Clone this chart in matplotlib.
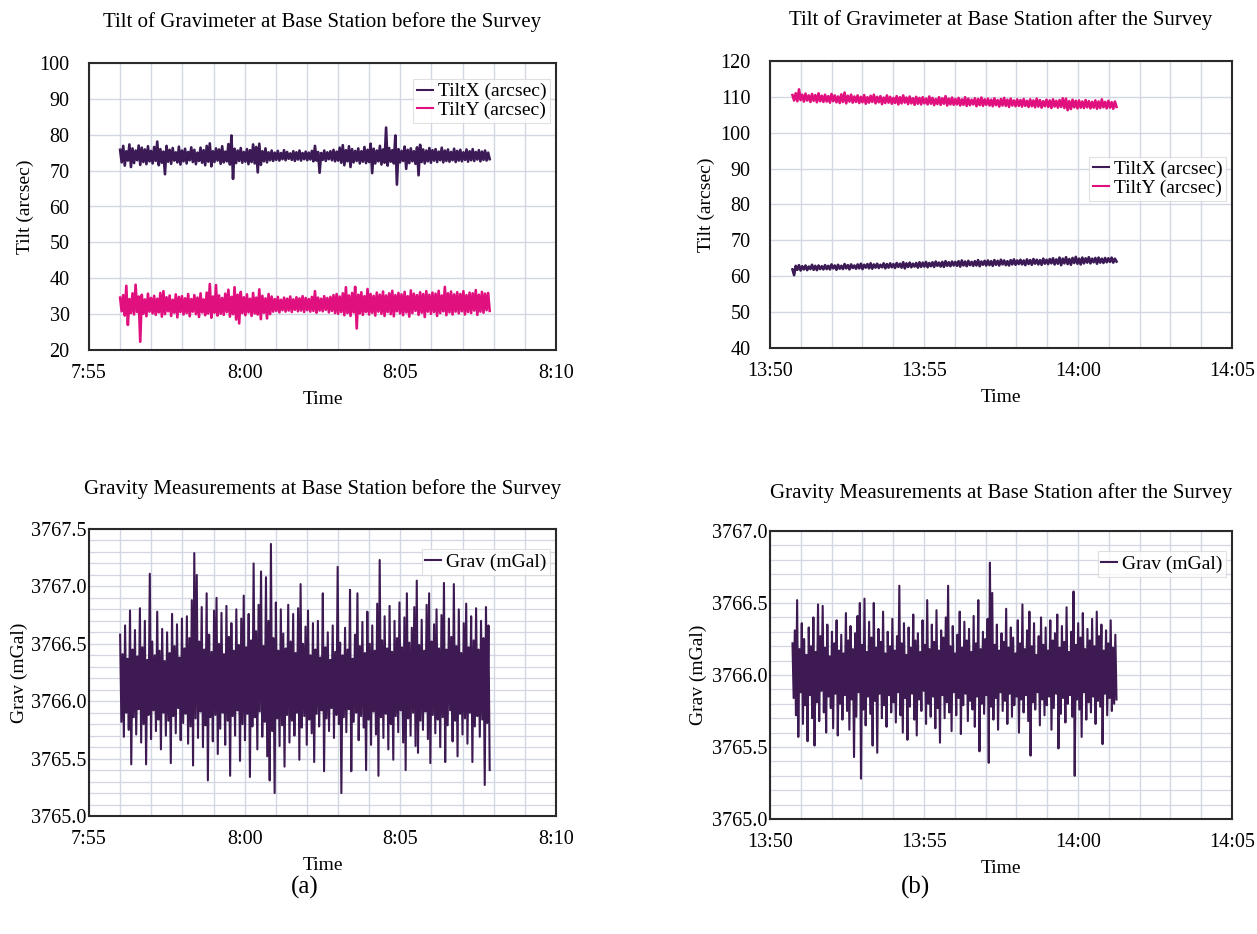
import numpy as np
import matplotlib
matplotlib.use("Agg")
import matplotlib.pyplot as plt
from matplotlib.ticker import MultipleLocator, FuncFormatter

# record spans, minutes after midnight
t_before = (7 * 60 + 56.0, 8 * 60 + 7.87)
t_after = (13 * 60 + 50.73, 14 * 60 + 1.25)

# values: alternating upper / lower excursions
tiltx_a_hi = [
    75.8, 76.9, 75.4, 77.3, 76.2, 75.6, 77.0, 76.4, 75.9, 76.8,
    75.5, 76.6, 78.1, 76.0, 75.3, 76.9, 75.8, 76.3, 75.1, 76.7,
    75.6, 76.1, 75.2, 76.5, 75.8, 75.0, 76.4, 75.7, 76.9, 77.6,
    75.4, 76.2, 75.9, 76.8, 75.3, 77.4, 79.8, 76.1, 75.6, 76.3,
    75.2, 76.0, 75.7, 77.3, 76.6, 77.5, 75.4, 76.2, 75.1, 75.6,
    75.0, 75.5, 74.9, 75.7, 75.2, 74.8, 75.4, 75.1, 75.6, 74.9,
    75.3, 75.0, 75.5, 76.9, 75.2, 74.9, 75.6, 75.1, 75.4, 75.8,
    75.3, 76.4, 77.1, 75.7, 76.8, 76.0, 75.5, 76.2, 75.4, 76.6,
    75.8, 77.5, 76.1, 75.6, 76.9, 75.9, 82.0, 76.3, 75.7, 79.8,
    76.0, 75.5, 76.7, 75.8, 76.2, 75.4, 76.5, 77.2, 75.9, 75.6,
    76.3, 75.7, 76.0, 75.3, 76.4, 75.6, 75.9, 75.2, 76.1, 75.5,
    75.8, 75.1, 75.9, 75.4, 76.0, 75.2, 75.7, 75.3, 75.6, 75.0,
]
tiltx_a_lo = [
    72.3, 71.4, 72.8, 71.0, 72.1, 72.9, 71.6, 72.4, 71.8, 72.6,
    72.0, 72.7, 71.5, 72.2, 69.0, 72.5, 71.9, 72.8, 72.3, 71.7,
    72.6, 72.0, 72.9, 72.4, 71.8, 72.7, 72.2, 71.5, 72.5, 71.2,
    72.4, 72.8, 71.9, 72.3, 72.6, 71.7, 67.7, 72.1, 72.7, 72.2,
    72.5, 71.8, 72.4, 72.0, 69.5, 71.6, 72.6, 72.3, 72.9, 72.7,
    73.0, 72.8, 73.2, 72.9, 73.3, 73.0, 72.7, 73.1, 72.8, 73.2,
    72.9, 73.1, 72.6, 72.8, 69.4, 73.0, 72.7, 73.2, 72.9, 72.6,
    72.8, 72.2, 71.5, 72.6, 71.0, 72.3, 72.7, 72.0, 72.5, 72.1,
    72.4, 69.3, 72.0, 72.6, 71.7, 72.2, 71.4, 72.5, 72.0, 66.1,
    72.3, 72.7, 70.5, 72.1, 72.6, 71.9, 68.7, 72.4, 72.0, 72.6,
    72.2, 72.8, 72.4, 72.9, 72.3, 72.7, 72.5, 72.9, 72.4, 72.8,
    72.6, 73.0, 72.5, 72.9, 72.7, 73.1, 72.6, 73.0, 72.8, 73.2,
]
tilty_a_hi = [
    34.6, 35.3, 37.9, 34.2, 35.8, 38.2, 34.9, 35.4, 34.1, 35.7,
    34.5, 35.1, 34.3, 35.9, 36.4, 34.7, 35.2, 34.0, 35.5, 34.8,
    35.0, 34.4, 35.6, 34.2, 35.3, 34.6, 35.8, 34.1, 36.0, 38.4,
    34.9, 38.1, 35.2, 34.5, 35.7, 36.8, 34.8, 37.5, 35.4, 36.2,
    34.7, 35.5, 34.3, 35.9, 34.6, 36.9, 35.1, 34.4, 35.6, 34.9,
    34.2, 34.8, 34.0, 34.6, 34.3, 34.9, 34.1, 34.7, 34.4, 35.0,
    34.5, 34.2, 34.8, 36.4, 34.6, 34.3, 35.0, 34.5, 34.8, 35.3,
    35.6, 34.9, 35.8, 37.5, 35.2, 35.9, 37.6, 35.4, 36.1, 35.0,
    37.0, 35.6, 35.1, 36.0, 35.4, 36.3, 35.2, 35.8, 36.5, 35.3,
    35.9, 35.5, 36.2, 35.0, 36.6, 35.7, 35.3, 36.1, 35.6, 36.4,
    35.4, 36.0, 35.7, 36.5, 35.2, 37.6, 35.8, 36.3, 35.5, 36.1,
    35.6, 36.4, 35.3, 36.0, 35.8, 36.7, 35.4, 36.2, 35.7, 35.9,
]
tilty_a_lo = [
    30.8, 29.6, 27.0, 30.3, 29.9, 30.6, 22.3, 30.1, 29.4, 30.7,
    30.2, 29.8, 30.5, 29.3, 30.0, 30.8, 29.5, 30.4, 29.1, 30.6,
    29.9, 30.3, 29.4, 30.7, 30.0, 29.2, 30.5, 29.7, 30.2, 29.0,
    30.4, 29.6, 30.1, 29.8, 30.6, 29.3, 30.0, 28.5, 27.4, 30.3,
    29.7, 30.5, 29.5, 30.2, 29.9, 28.6, 30.4, 28.8, 30.0, 30.7,
    30.9, 30.5, 31.1, 30.7, 31.0, 30.6, 31.2, 30.8, 31.0, 30.6,
    31.1, 30.7, 30.9, 30.4, 31.0, 30.8, 31.2, 30.5, 30.9, 30.3,
    30.1, 30.6, 29.7, 30.3, 29.5, 30.5, 26.0, 30.2, 29.8, 30.6,
    29.9, 30.4, 29.6, 30.7, 30.1, 29.5, 30.6, 30.0, 29.4, 30.8,
    30.2, 29.7, 30.5, 29.3, 30.3, 30.9, 29.8, 30.4, 29.2, 30.7,
    30.1, 30.6, 29.5, 30.3, 30.8, 29.7, 30.5, 29.9, 30.7, 30.2,
    30.8, 29.9, 30.6, 30.3, 31.0, 29.8, 30.7, 30.4, 31.1, 30.9,
]

tiltx_b_hi = [
    61.9, 62.9, 63.1, 62.8, 63.0, 62.7, 63.2, 62.9, 63.0, 62.8,
    63.1, 62.9, 63.3, 63.0, 63.2, 62.9, 63.4, 63.1, 63.3, 63.0,
    63.3, 63.5, 63.2, 63.4, 63.6, 63.3, 63.5, 63.2, 63.6, 63.4,
    63.6, 63.4, 63.7, 63.5, 63.9, 63.6, 63.8, 63.5, 63.7, 63.9,
    63.8, 64.0, 63.7, 63.9, 64.1, 63.8, 64.0, 64.2, 63.9, 64.1,
    64.0, 64.2, 64.4, 64.1, 64.3, 64.0, 64.2, 64.5, 64.1, 64.3,
    64.4, 64.2, 64.5, 64.3, 64.6, 64.4, 64.2, 64.5, 64.7, 64.4,
    64.6, 64.4, 64.7, 64.5, 64.8, 64.6, 64.5, 64.9, 64.6, 64.8,
    65.0, 64.7, 65.2, 64.9, 65.3, 64.8, 65.1, 65.4, 64.9, 65.2,
    65.0, 65.3, 64.9, 65.1, 65.2, 64.9, 65.1, 65.0, 65.2, 64.9,
]
tiltx_b_lo = [
    60.3, 61.8, 61.6, 61.9, 61.7, 62.0, 61.8, 61.7, 62.0, 61.9,
    62.0, 61.9, 62.2, 61.8, 62.1, 62.0, 62.2, 61.9, 62.3, 62.1,
    62.2, 62.0, 62.4, 62.2, 62.1, 62.4, 62.3, 62.5, 62.2, 62.4,
    62.5, 62.3, 62.6, 62.4, 62.2, 62.6, 62.5, 62.7, 62.4, 62.6,
    62.7, 62.5, 62.8, 62.6, 62.9, 62.7, 62.6, 62.9, 62.8, 63.0,
    62.9, 62.7, 63.0, 62.8, 63.1, 62.9, 63.0, 62.8, 63.2, 63.0,
    63.1, 62.9, 63.2, 63.0, 63.3, 63.1, 63.0, 63.3, 63.2, 63.4,
    63.3, 63.1, 63.4, 63.2, 63.5, 63.3, 63.2, 63.5, 63.4, 63.6,
    63.3, 63.5, 63.1, 63.6, 63.4, 63.2, 63.7, 63.5, 63.3, 63.6,
    63.8, 63.6, 63.9, 63.5, 63.8, 63.7, 63.9, 64.0, 63.8, 64.1,
]
tilty_b_hi = [
    110.5, 111.0, 112.1, 110.6, 110.9, 110.4, 110.8, 110.5, 111.0, 110.3,
    110.6, 110.2, 110.8, 110.4, 110.1, 110.7, 111.2, 110.3, 110.6, 110.1,
    110.4, 110.0, 110.5, 109.9, 110.3, 110.6, 110.0, 110.2, 109.8, 110.4,
    110.0, 109.7, 110.2, 109.9, 110.4, 109.8, 110.1, 109.6, 110.0, 109.7,
    109.9, 109.5, 110.1, 109.7, 109.4, 109.9, 109.6, 110.2, 109.5, 109.8,
    109.4, 109.7, 109.3, 109.9, 109.5, 109.2, 109.6, 109.4, 109.8, 109.3,
    109.5, 109.2, 109.6, 109.1, 109.4, 109.7, 109.2, 109.5, 109.0, 109.3,
    109.1, 109.4, 108.9, 109.3, 109.0, 109.5, 109.1, 108.8, 109.2, 109.0,
    109.3, 108.9, 109.1, 109.6, 109.5, 108.8, 109.2, 108.9, 109.0, 108.7,
    109.1, 108.8, 108.6, 109.0, 108.7, 109.3, 108.6, 108.9, 108.5, 108.7,
]
tilty_b_lo = [
    109.0, 108.8, 109.1, 108.7, 109.0, 108.6, 108.9, 108.5, 108.8, 108.6,
    108.7, 108.4, 108.8, 108.5, 108.3, 108.6, 108.2, 108.7, 108.4, 108.6,
    108.3, 108.5, 108.1, 108.4, 108.6, 108.2, 108.5, 108.0, 108.3, 108.4,
    108.1, 108.3, 107.9, 108.2, 108.4, 108.0, 108.2, 107.8, 108.1, 107.9,
    108.2, 107.9, 108.1, 107.7, 108.0, 107.8, 108.1, 107.6, 107.9, 107.8,
    107.9, 107.6, 107.8, 107.5, 107.7, 107.9, 107.4, 107.7, 107.5, 107.8,
    107.6, 107.4, 107.7, 107.3, 107.6, 107.5, 107.2, 107.6, 107.4, 107.5,
    107.3, 107.5, 107.2, 107.4, 107.1, 107.3, 107.0, 107.4, 107.2, 106.9,
    107.3, 107.0, 107.2, 106.9, 106.3, 106.6, 107.1, 106.8, 107.0, 106.9,
    107.1, 106.8, 107.0, 106.7, 106.9, 107.1, 106.8, 107.0, 106.7, 107.2,
]

grav_a_hi = [
    3766.58, 3766.41, 3766.66, 3766.37, 3766.79, 3766.45, 3766.62, 3766.39, 3766.81, 3766.47,
    3766.70, 3766.36, 3767.11, 3766.52, 3766.40, 3766.78, 3766.44, 3766.63, 3766.35, 3766.60,
    3766.42, 3766.76, 3766.48, 3766.67, 3766.38, 3766.72, 3766.46, 3766.74, 3766.55, 3766.88,
    3767.29, 3767.10, 3766.52, 3766.82, 3766.45, 3766.94, 3766.58, 3766.43, 3766.79, 3766.90,
    3766.50, 3766.77, 3766.41, 3766.83, 3766.56, 3766.68, 3766.44, 3766.80, 3766.49, 3766.72,
    3766.92, 3766.47, 3766.76, 3766.53, 3767.20, 3766.61, 3766.84, 3767.13, 3766.48, 3767.08,
    3766.70, 3767.37, 3766.55, 3766.86, 3766.44, 3766.80, 3766.59, 3766.46, 3766.84, 3766.52,
    3766.76, 3766.42, 3766.81, 3767.02, 3766.50, 3766.65, 3766.79, 3766.40, 3766.68, 3766.45,
    3766.70, 3766.38, 3766.94, 3766.47, 3766.60, 3766.36, 3766.66, 3766.43, 3767.17, 3766.51,
    3766.40, 3766.64, 3766.45, 3766.97, 3766.37, 3766.58, 3766.94, 3766.48, 3766.69, 3766.42,
    3766.78, 3766.50, 3766.66, 3766.44, 3766.85, 3767.23, 3766.53, 3766.74, 3766.46, 3766.83,
    3766.43, 3766.70, 3766.55, 3766.86, 3766.47, 3766.73, 3766.94, 3766.51, 3766.64, 3766.82,
    3767.05, 3766.49, 3766.71, 3766.44, 3766.84, 3766.94, 3766.52, 3766.67, 3766.80, 3766.46,
    3766.75, 3767.03, 3766.45, 3766.72, 3766.56, 3767.02, 3766.48, 3766.80, 3766.42, 3766.68,
    3766.85, 3766.47, 3766.74, 3766.53, 3766.81, 3766.45, 3766.70, 3766.55, 3766.82, 3766.66,
]
grav_a_lo = [
    3765.82, 3765.69, 3765.90, 3765.75, 3765.45, 3765.86, 3765.71, 3765.93, 3765.64, 3765.80,
    3765.45, 3765.88, 3765.67, 3765.92, 3765.74, 3765.84, 3765.58, 3765.90, 3765.70, 3765.83,
    3765.46, 3765.87, 3765.72, 3765.94, 3765.66, 3765.81, 3765.89, 3765.63, 3765.78, 3765.44,
    3765.85, 3765.68, 3765.91, 3765.60, 3765.79, 3765.31, 3765.86, 3765.65, 3765.88, 3765.54,
    3765.76, 3765.90, 3765.62, 3765.83, 3765.35, 3765.87, 3765.70, 3765.92, 3765.48, 3765.80,
    3765.66, 3765.89, 3765.34, 3765.78, 3765.86, 3765.58, 3765.91, 3765.69, 3765.82, 3765.52,
    3765.31, 3765.74, 3765.20, 3765.85, 3765.61, 3765.79, 3765.43, 3765.88, 3765.64, 3765.83,
    3765.70, 3765.90, 3765.49, 3765.77, 3765.87, 3765.62, 3765.84, 3765.72, 3765.47, 3765.89,
    3765.78, 3765.92, 3765.39, 3765.85, 3765.74, 3765.94, 3765.68, 3765.88, 3765.80, 3765.20,
    3765.86, 3765.73, 3765.93, 3765.39, 3765.82, 3765.90, 3765.66, 3765.87, 3765.77, 3765.40,
    3765.84, 3765.62, 3765.91, 3765.71, 3765.35, 3765.86, 3765.68, 3765.89, 3765.58, 3765.80,
    3765.49, 3765.87, 3765.73, 3765.92, 3765.64, 3765.40, 3765.85, 3765.70, 3765.90, 3765.61,
    3765.55, 3765.83, 3765.75, 3765.91, 3765.67, 3765.46, 3765.88, 3765.72, 3765.84, 3765.60,
    3765.86, 3765.47, 3765.79, 3765.92, 3765.65, 3765.83, 3765.52, 3765.89, 3765.71, 3765.85,
    3765.63, 3765.90, 3765.47, 3765.78, 3765.87, 3765.69, 3765.84, 3765.27, 3765.81, 3765.40,
]
grav_b_hi = [
    3766.22, 3766.31, 3766.52, 3766.18, 3766.36, 3766.25, 3766.14, 3766.33, 3766.20, 3766.40,
    3766.16, 3766.49, 3766.27, 3766.48, 3766.19, 3766.35, 3766.13, 3766.30, 3766.22, 3766.38,
    3766.17, 3766.28, 3766.15, 3766.43, 3766.24, 3766.34, 3766.18, 3766.29, 3766.41, 3766.50,
    3766.21, 3766.53, 3766.16, 3766.37, 3766.26, 3766.50, 3766.19, 3766.32, 3766.23, 3766.44,
    3766.15, 3766.30, 3766.20, 3766.39, 3766.17, 3766.27, 3766.62, 3766.22, 3766.36, 3766.14,
    3766.33, 3766.19, 3766.42, 3766.24, 3766.29, 3766.16, 3766.38, 3766.21, 3766.52, 3766.18,
    3766.35, 3766.23, 3766.45, 3766.17, 3766.31, 3766.26, 3766.40, 3766.62, 3766.20, 3766.34,
    3766.15, 3766.28, 3766.44, 3766.19, 3766.37, 3766.24, 3766.32, 3766.16, 3766.41, 3766.22,
    3766.52, 3766.18, 3766.30, 3766.25, 3766.39, 3766.78, 3766.57, 3766.21, 3766.35, 3766.17,
    3766.29, 3766.23, 3766.46, 3766.19, 3766.33, 3766.26, 3766.15, 3766.38, 3766.22, 3766.49,
    3766.18, 3766.31, 3766.44, 3766.20, 3766.36, 3766.14, 3766.27, 3766.40, 3766.21, 3766.33,
    3766.17, 3766.38, 3766.24, 3766.29, 3766.42, 3766.19, 3766.34, 3766.23, 3766.47, 3766.16,
    3766.30, 3766.58, 3766.21, 3766.36, 3766.26, 3766.43, 3766.18, 3766.32, 3766.24, 3766.39,
    3766.20, 3766.44, 3766.27, 3766.35, 3766.17, 3766.31, 3766.22, 3766.38, 3766.19, 3766.28,
]
grav_b_lo = [
    3765.84, 3765.72, 3765.57, 3765.88, 3765.66, 3765.79, 3765.54, 3765.86, 3765.70, 3765.51,
    3765.81, 3765.68, 3765.89, 3765.74, 3765.60, 3765.85, 3765.77, 3765.63, 3765.87, 3765.58,
    3765.80, 3765.69, 3765.86, 3765.75, 3765.62, 3765.83, 3765.43, 3765.71, 3765.88, 3765.28,
    3765.76, 3765.65, 3765.85, 3765.73, 3765.51, 3765.82, 3765.46, 3765.87, 3765.70, 3765.79,
    3765.64, 3765.86, 3765.74, 3765.81, 3765.67, 3765.88, 3765.72, 3765.60, 3765.84, 3765.55,
    3765.78, 3765.87, 3765.69, 3765.58, 3765.83, 3765.75, 3765.89, 3765.66, 3765.80, 3765.71,
    3765.85, 3765.63, 3765.77, 3765.53, 3765.86, 3765.70, 3765.81, 3765.74, 3765.61, 3765.88,
    3765.72, 3765.84, 3765.59, 3765.79, 3765.87, 3765.68, 3765.82, 3765.76, 3765.64, 3765.85,
    3765.47, 3765.80, 3765.73, 3765.86, 3765.39, 3765.78, 3765.69, 3765.84, 3765.62, 3765.88,
    3765.75, 3765.82, 3765.66, 3765.87, 3765.71, 3765.79, 3765.85, 3765.60, 3765.83, 3765.74,
    3765.86, 3765.68, 3765.44, 3765.81, 3765.76, 3765.88, 3765.65, 3765.83, 3765.72, 3765.79,
    3765.85, 3765.62, 3765.77, 3765.87, 3765.49, 3765.73, 3765.84, 3765.67, 3765.80, 3765.86,
    3765.71, 3765.30, 3765.83, 3765.76, 3765.57, 3765.88, 3765.69, 3765.81, 3765.74, 3765.85,
    3765.66, 3765.82, 3765.78, 3765.52, 3765.87, 3765.72, 3765.84, 3765.75, 3765.80, 3765.83,
]

col_x = '#3c1a55'
col_y = '#e0107f'
col_g = '#3e1a52'
grid_c = '#d3d7e3'
fs = 14.5

plt.rcParams['font.family'] = ['Liberation Serif', 'DejaVu Serif']


def zigzag(hi, lo):
    return np.column_stack([hi, lo]).ravel()


def series(span, hi, lo):
    y = zigzag(hi, lo)
    return np.linspace(span[0], span[1], len(y)), y


def hhmm(x, pos):
    m = int(round(x))
    return f"{m // 60}:{m % 60:02d}"


def style(ax, xlim, ylim, ystep, yfmt, ypad, minor_y=None):
    ax.set_xlim(*xlim)
    ax.set_ylim(*ylim)
    ax.xaxis.set_major_locator(MultipleLocator(5))
    ax.xaxis.set_minor_locator(MultipleLocator(1))
    ax.xaxis.set_major_formatter(FuncFormatter(hhmm))
    ax.yaxis.set_major_locator(MultipleLocator(ystep))
    ax.yaxis.set_major_formatter(FuncFormatter(lambda v, p: yfmt.format(v)))
    ax.grid(which='both', axis='x', color=grid_c, lw=1.0)
    ax.grid(which='major', axis='y', color=grid_c, lw=1.0)
    if minor_y:
        ax.yaxis.set_minor_locator(MultipleLocator(minor_y))
        ax.grid(which='minor', axis='y', color=grid_c, lw=0.9)
    ax.set_axisbelow(True)
    ax.tick_params(which='both', length=0, labelsize=fs)
    ax.tick_params(axis='x', pad=10)
    ax.tick_params(axis='y', pad=ypad)
    for s in ax.spines.values():
        s.set_color('#2a2a2a')
        s.set_linewidth(1.5)
    ax.set_xlabel('Time', fontsize=14, labelpad=6)


def legend(ax, **kw):
    lg = ax.legend(fontsize=14, handlelength=0.8, handletextpad=0.25,
                   borderpad=0.2, labelspacing=0.05, fancybox=False,
                   borderaxespad=0.3, **kw)
    lg.get_frame().set_edgecolor('#d9d9d9')
    lg.get_frame().set_linewidth(0.8)
    for h in lg.get_lines():
        h.set_linewidth(1.5)


fig = plt.figure(figsize=(12.57, 9.34), dpi=100)
W, H = 1257, 934


def add_axes(l, t, r, b):
    return fig.add_axes([l / W, 1 - b / H, (r - l) / W, (b - t) / H])


ax1 = add_axes(89, 63, 556, 350)
ax2 = add_axes(770, 61, 1232, 348)
ax3 = add_axes(89, 529, 556, 816)
ax4 = add_axes(770, 531, 1232, 819)

lw_t = 1.9
lw_g = 1.5
# (a) tilt before the survey
ax1.plot(*series(t_before, tiltx_a_hi, tiltx_a_lo), color=col_x, lw=lw_t, label='TiltX (arcsec)')
ax1.plot(*series(t_before, tilty_a_hi, tilty_a_lo), color=col_y, lw=lw_t, label='TiltY (arcsec)')
style(ax1, (475, 490), (20, 100), 10, '{:.0f}', 14)
ax1.set_ylabel('Tilt (arcsec)', fontsize=14)
ax1.yaxis.set_label_coords(-0.118, 0.5)
ax1.set_title('Tilt of Gravimeter at Base Station before the Survey', fontsize=15, pad=26)
legend(ax1, loc='upper right', bbox_to_anchor=(1.0, 0.965))

# (b) tilt after the survey
ax2.plot(*series(t_after, tiltx_b_hi, tiltx_b_lo), color=col_x, lw=lw_t, label='TiltX (arcsec)')
ax2.plot(*series(t_after, tilty_b_hi, tilty_b_lo), color=col_y, lw=lw_t, label='TiltY (arcsec)')
style(ax2, (830, 845), (40, 120), 10, '{:.0f}', 14)
ax2.set_ylabel('Tilt (arcsec)', fontsize=14)
ax2.yaxis.set_label_coords(-0.119, 0.5)
ax2.set_title('Tilt of Gravimeter at Base Station after the Survey', fontsize=15, pad=26)
legend(ax2, loc='center right', bbox_to_anchor=(1.0, 0.59))

# (a) gravity before the survey
ax3.plot(*series(t_before, grav_a_hi, grav_a_lo), color=col_g, lw=lw_g, label='Grav (mGal)')
style(ax3, (475, 490), (3765.0, 3767.5), 0.5, '{:.1f}', 2, minor_y=0.1)
ax3.set_ylabel('Grav (mGal)', fontsize=14)
ax3.yaxis.set_label_coords(-0.131, 0.5)
ax3.set_title('Gravity Measurements at Base Station before the Survey', fontsize=15, pad=25)
legend(ax3, loc='upper right', bbox_to_anchor=(1.0, 0.95))

# (b) gravity after the survey
ax4.plot(*series(t_after, grav_b_hi, grav_b_lo), color=col_g, lw=lw_g, label='Grav (mGal)')
style(ax4, (830, 845), (3765.0, 3767.0), 0.5, '{:.1f}', 2, minor_y=0.1)
ax4.set_ylabel('Grav (mGal)', fontsize=14)
ax4.yaxis.set_label_coords(-0.136, 0.5)
ax4.set_title('Gravity Measurements at Base Station after the Survey', fontsize=15, pad=24)
legend(ax4, loc='upper right', bbox_to_anchor=(1.0, 0.95))

fig.text(305 / W, 1 - 887 / H, '(a)', ha='center', va='center', fontsize=18)
fig.text(915 / W, 1 - 887 / H, '(b)', ha='center', va='center', fontsize=18)

fig.savefig('out.png', dpi=100, facecolor='white')
